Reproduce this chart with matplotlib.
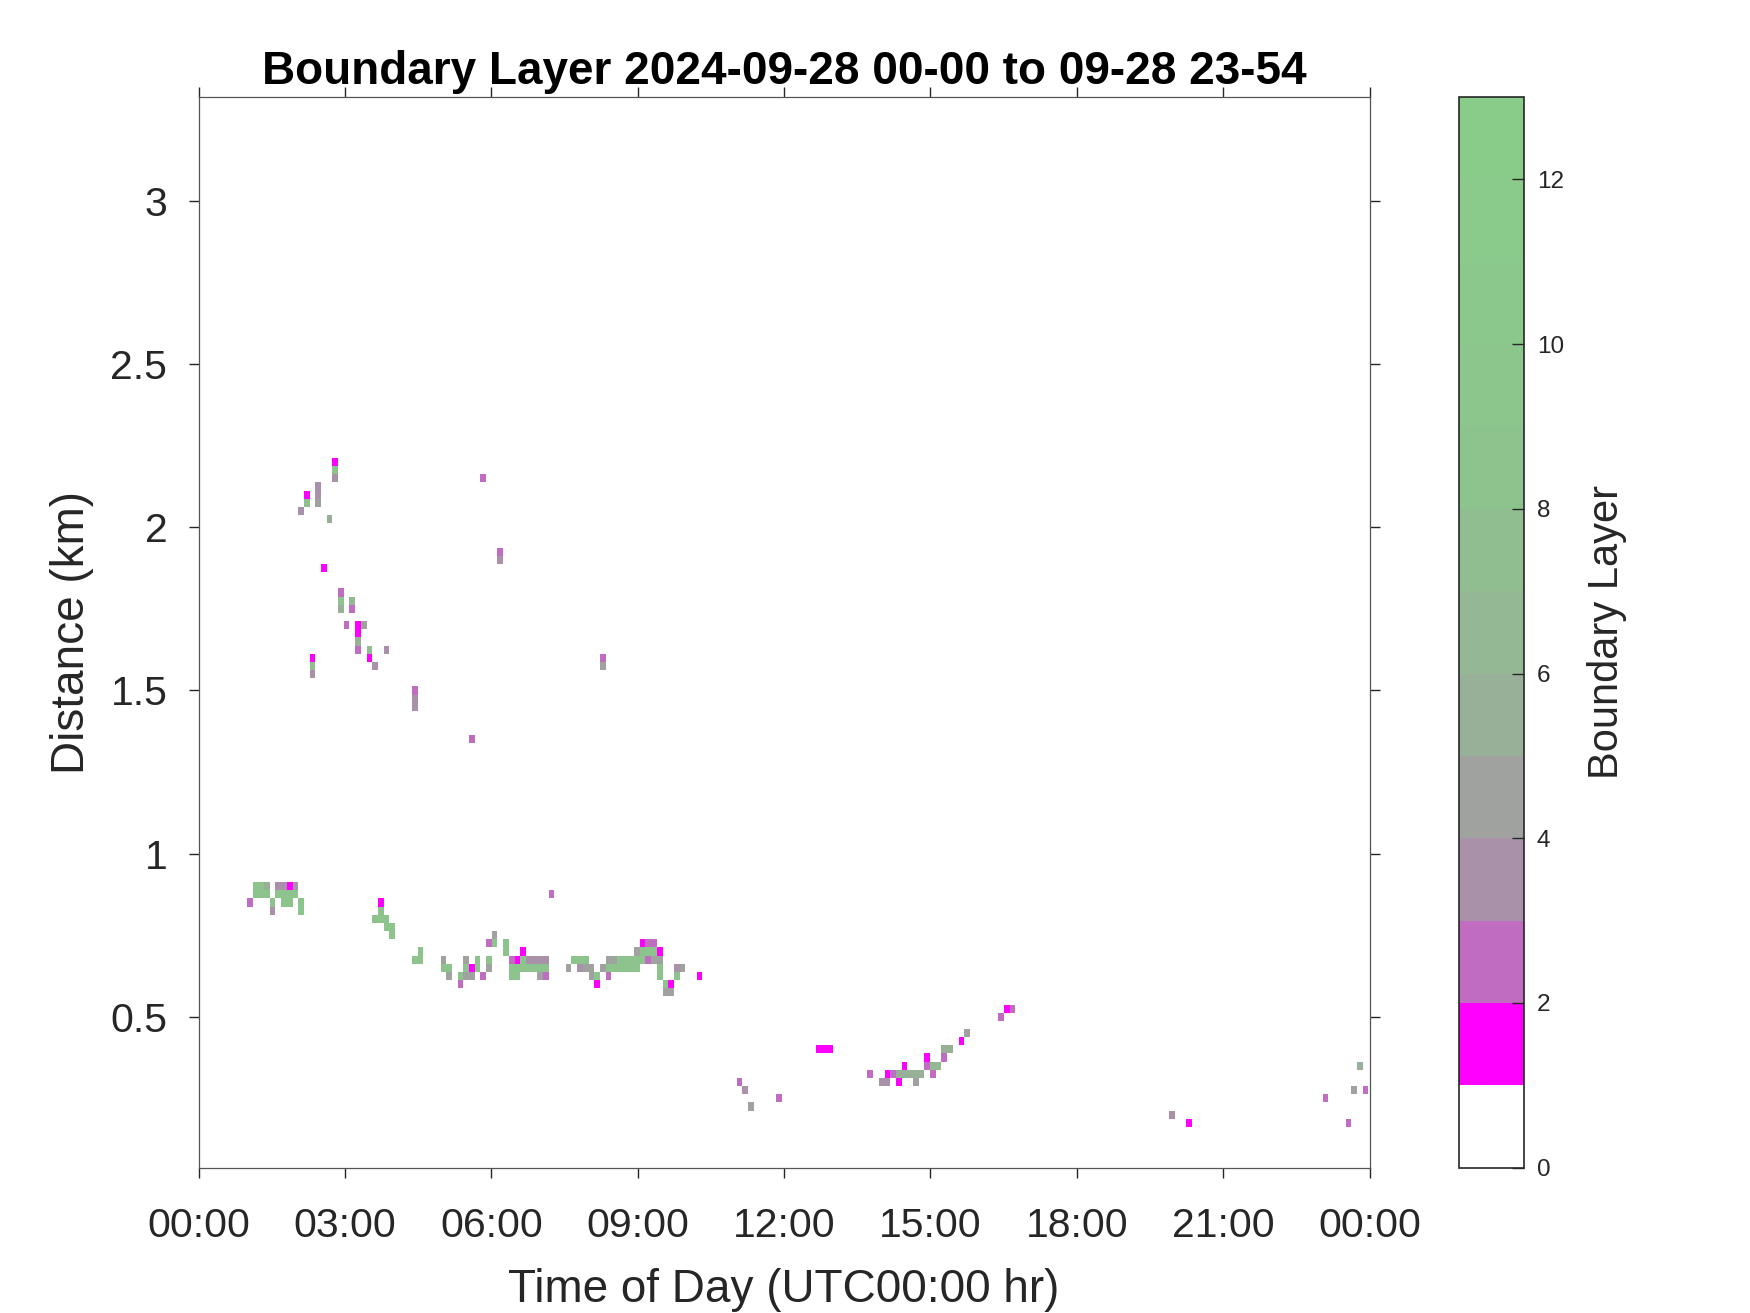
import numpy as np
import matplotlib.pyplot as plt
from matplotlib.colors import ListedColormap, BoundaryNorm

plt.rcParams['font.family'] = ['Liberation Sans', 'DejaVu Sans']

# profile spacing (minutes) and range gate (km)
step_min = 7
gate_km = 0.025
first_gate_km = 0.05
n_profiles = 206
n_gates = 131

# boundary layer cells: (minute of day, height km, value)
upper_cells = [
    (126, 2.050, 3.5),
    (133, 2.100, 1.5), (133, 2.075, 7.5),
    (147, 2.125, 3.5), (147, 2.100, 3.5), (147, 2.075, 4.5),
    (161, 2.025, 5.5),
    (168, 2.200, 1.5), (168, 2.175, 8.5), (168, 2.150, 3.5),
    (154, 1.875, 1.5),
    (140, 1.600, 1.5), (140, 1.575, 7.5), (140, 1.550, 3.5),
    (175, 1.800, 2.5), (175, 1.775, 8.5), (175, 1.750, 5.5),
    (182, 1.700, 2.5),
    (189, 1.775, 6.5), (189, 1.750, 2.5),
    (196, 1.700, 1.5), (196, 1.675, 1.5), (196, 1.650, 5.5), (196, 1.625, 2.5),
    (203, 1.700, 4.5),
    (210, 1.625, 7.5), (210, 1.600, 1.5),
    (217, 1.575, 3.5),
    (231, 1.625, 3.5),
    (266, 1.500, 2.5), (266, 1.475, 3.5), (266, 1.450, 3.5),
    (350, 2.150, 2.5),
    (371, 1.925, 2.5), (371, 1.900, 3.5),
    (497, 1.600, 2.5), (497, 1.575, 4.5),
    (336, 1.350, 2.5),
    (434, 0.875, 2.5),
]

early_cells = [
    (63, 0.850, 2.5),
    (70, 0.900, 8.5), (70, 0.875, 8.5),
    (77, 0.900, 8.5), (77, 0.875, 8.5),
    (84, 0.900, 5.5), (84, 0.875, 8.5),
    (91, 0.850, 8.5), (91, 0.825, 3.5),
    (98, 0.900, 3.5), (98, 0.875, 8.5),
    (105, 0.900, 3.5), (105, 0.875, 8.5), (105, 0.850, 8.5),
    (112, 0.900, 1.5), (112, 0.875, 8.5), (112, 0.850, 8.5),
    (119, 0.900, 3.5), (119, 0.875, 8.5),
    (126, 0.850, 8.5), (126, 0.825, 8.5),
    (217, 0.800, 8.5),
    (224, 0.850, 1.5), (224, 0.825, 8.5), (224, 0.800, 8.5),
    (231, 0.800, 8.5), (231, 0.775, 8.5),
    (238, 0.775, 8.5), (238, 0.750, 8.5),
]

morning_cells = [
    (266, 0.675, 8.5),
    (273, 0.700, 8.5), (273, 0.675, 8.5),
    (301, 0.675, 4.5), (301, 0.650, 8.5),
    (308, 0.650, 8.5), (308, 0.625, 4.5),
    (322, 0.625, 8.5), (322, 0.600, 2.5),
    (329, 0.675, 4.5), (329, 0.650, 8.5), (329, 0.625, 4.5),
    (336, 0.650, 1.5), (336, 0.625, 4.5),
    (343, 0.675, 8.5), (343, 0.650, 8.5),
    (350, 0.625, 2.5),
    (357, 0.725, 2.5), (357, 0.675, 8.5), (357, 0.650, 4.5),
    (364, 0.750, 4.5), (364, 0.725, 8.5),
    (378, 0.725, 8.5), (378, 0.700, 8.5),
    (385, 0.675, 2.5), (385, 0.650, 8.5), (385, 0.625, 8.5),
    (392, 0.675, 1.5), (392, 0.650, 8.5), (392, 0.625, 8.5),
    (399, 0.700, 1.5), (399, 0.675, 8.5), (399, 0.650, 8.5),
    (406, 0.675, 3.5), (406, 0.650, 8.5),
    (413, 0.675, 3.5), (413, 0.650, 8.5),
    (420, 0.675, 3.5), (420, 0.650, 8.5), (420, 0.625, 4.5),
    (427, 0.675, 3.5), (427, 0.650, 8.5), (427, 0.625, 2.5),
    (455, 0.650, 4.5),
    (462, 0.675, 8.5),
    (469, 0.675, 8.5), (469, 0.650, 3.5),
    (476, 0.675, 8.5), (476, 0.650, 4.5),
    (483, 0.650, 4.5), (483, 0.625, 4.5),
    (490, 0.625, 8.5), (490, 0.600, 1.5),
    (497, 0.650, 4.5),
    (504, 0.675, 4.5), (504, 0.650, 8.5), (504, 0.625, 2.5),
    (511, 0.675, 4.5), (511, 0.650, 8.5),
    (518, 0.675, 8.5), (518, 0.650, 8.5),
    (525, 0.675, 8.5), (525, 0.650, 8.5),
    (532, 0.675, 8.5), (532, 0.650, 8.5),
    (539, 0.700, 4.5), (539, 0.675, 8.5), (539, 0.650, 8.5),
    (546, 0.725, 1.5), (546, 0.700, 8.5), (546, 0.675, 8.5),
    (553, 0.725, 2.5), (553, 0.700, 8.5), (553, 0.675, 2.5),
    (560, 0.725, 2.5), (560, 0.700, 8.5), (560, 0.675, 4.5),
    (567, 0.700, 1.5), (567, 0.675, 4.5), (567, 0.650, 8.5), (567, 0.625, 8.5),
    (574, 0.600, 8.5), (574, 0.575, 4.5),
    (581, 0.600, 1.5), (581, 0.575, 4.5),
    (588, 0.650, 3.5), (588, 0.625, 8.5),
    (595, 0.650, 4.5),
    (616, 0.625, 1.5),
]

afternoon_cells = [
    (665, 0.300, 2.5),
    (672, 0.275, 3.5),
    (679, 0.225, 4.5),
    (714, 0.250, 2.5),
    (763, 0.400, 1.5), (770, 0.400, 1.5), (777, 0.400, 1.5),
    (826, 0.325, 2.5),
    (840, 0.300, 3.5),
    (847, 0.325, 1.5), (847, 0.300, 3.5),
    (854, 0.325, 2.5),
    (861, 0.325, 5.5), (861, 0.300, 1.5),
    (868, 0.350, 1.5), (868, 0.325, 5.5),
    (875, 0.325, 5.5),
    (882, 0.325, 5.5), (882, 0.300, 4.5),
    (889, 0.325, 5.5),
    (896, 0.375, 1.5), (896, 0.350, 2.5),
    (903, 0.350, 6.5), (903, 0.325, 2.5),
    (910, 0.350, 6.5),
    (917, 0.400, 5.5), (917, 0.375, 2.5),
    (924, 0.400, 5.5),
    (938, 0.425, 1.5),
    (945, 0.450, 4.5),
    (987, 0.500, 2.5),
    (994, 0.525, 1.5),
    (1001, 0.525, 2.5),
]

night_cells = [
    (1197, 0.200, 3.5),
    (1218, 0.175, 1.5),
    (1386, 0.250, 2.5),
    (1414, 0.175, 2.5),
    (1421, 0.275, 4.5),
    (1428, 0.350, 5.5),
    (1435, 0.275, 2.5),
]

level_colors = ['#ffffff', '#ff00ff', '#c06cc0', '#aa91aa', '#a0a2a0',
                '#98b098', '#93b893', '#90be90', '#8dc38d', '#8cc68c',
                '#8bc88b', '#8aca8a', '#89cc89']
levels = np.arange(0, 14)
x_hours = [0, 3, 6, 9, 12, 15, 18, 21, 24]
x_labels = ['00:00', '03:00', '06:00', '09:00', '12:00', '15:00', '18:00', '21:00', '00:00']
y_ticks = [0.5, 1, 1.5, 2, 2.5, 3]
y_labels = ['0.5', '1', '1.5', '2', '2.5', '3']

# grid the cells
grid = np.zeros((n_gates, n_profiles))
for minute, km, val in upper_cells + early_cells + morning_cells + afternoon_cells + night_cells:
    j = int(round(minute / step_min))
    k = int(round((km - first_gate_km) / gate_km))
    grid[k, j] = val

t_edges = (np.arange(n_profiles + 1) * step_min - step_min / 2) / 60.0
h_edges = first_gate_km - gate_km / 2 + np.arange(n_gates + 1) * gate_km

cmap = ListedColormap(level_colors)
norm = BoundaryNorm(levels, cmap.N)

fig = plt.figure(figsize=(17.5, 13.13), dpi=100)
ax = fig.add_axes([0.1135, 0.1108, 0.6691, 0.8152])
mesh = ax.pcolormesh(t_edges, h_edges, grid, cmap=cmap, norm=norm, shading='flat')

ax.set_xlim(0, 24)
ax.set_ylim(0.038, 3.318)
ax.set_xticks(x_hours)
ax.set_xticklabels(x_labels)
ax.set_yticks(y_ticks)
ax.set_yticklabels(y_labels)
ax.tick_params(axis='both', direction='out', top=True, right=True, length=7.5,
               width=1.0, color='#262626', labelcolor='#262626', labelsize=29.5)
ax.tick_params(axis='x', pad=21)
ax.tick_params(axis='y', pad=15)
for sp in ax.spines.values():
    sp.set_color('#555555')
    sp.set_linewidth(0.9)

ax.set_xlabel('Time of Day (UTC00:00 hr)', fontsize=33, color='#262626', va='center')
ax.xaxis.set_label_coords(0.5, -0.114)
ax.set_ylabel('Distance (km)', fontsize=33, color='#262626', va='center')
ax.yaxis.set_label_coords(-0.1078, 0.5)

fig.text(0.448, 0.9455, 'Boundary Layer 2024-09-28 00-00 to 09-28 23-54',
         ha='center', va='center', fontsize=33, fontweight='bold', color='black')

cax = fig.add_axes([0.8335, 0.1108, 0.0376, 0.8152])
cb = fig.colorbar(mesh, cax=cax, ticks=[0, 2, 4, 6, 8, 10, 12])
cax.minorticks_off()
cb.outline.set_edgecolor('#262626')
cb.outline.set_linewidth(1.2)
cax.tick_params(direction='in', length=8.5, width=1.0, color='#262626',
                labelcolor='#262626', labelsize=17.5, pad=9)
cb.set_label('Boundary Layer', fontsize=30, color='#262626', va='center')
cax.yaxis.set_label_coords(2.254, 0.5)

fig.savefig('out.png', dpi=100, facecolor='white')
